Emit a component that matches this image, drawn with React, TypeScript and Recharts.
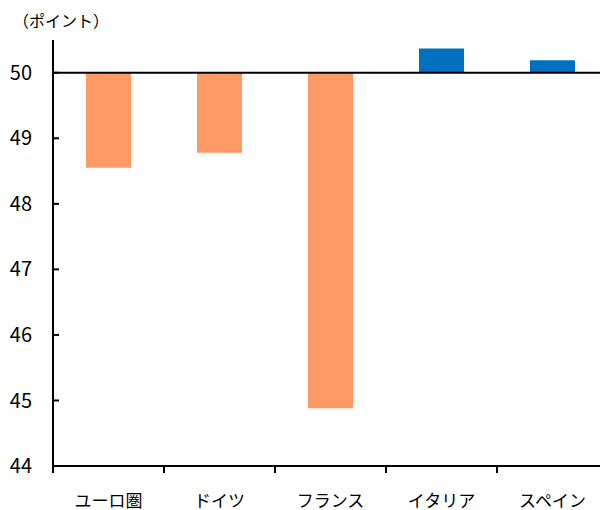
import React from "react";
import { BarChart, Bar, XAxis, YAxis, Cell, ReferenceLine } from "recharts";

const categories = ["ユーロ圏", "ドイツ", "フランス", "イタリア", "スペイン"];
const pmiValues = [48.55, 48.78, 44.88, 50.37, 50.19];
const baseline = 50;
const yTicks = [44, 45, 46, 47, 48, 49, 50];
const unitLabel = "（ポイント）";

const belowColor = "#FF9966";
const aboveColor = "#0070C0";

const data = categories.map((name, i) => ({
  name,
  value: pmiValues[i],
  range: [baseline, pmiValues[i]],
}));

const FONT = "'Noto Sans CJK JP', 'Noto Sans', sans-serif";

const XTick = (props: any) => {
  const { x, y, payload, index, visibleTicksCount } = props;
  const off = payload.offset || 0;
  const axisY = y - 6; // tick top (axis line) given tickSize=0 below
  const isLast = index === visibleTicksCount - 1;
  return (
    <g>
      <line x1={x - off} x2={x - off} y1={axisY} y2={axisY + 7} stroke="#000" strokeWidth={2} />
      {isLast && (
        <line x1={x + off} x2={x + off} y1={axisY} y2={axisY + 7} stroke="#000" strokeWidth={2} />
      )}
      <text
        x={x}
        y={axisY + 41}
        textAnchor="middle"
        fill="#000"
        fontSize={17}
        fontFamily={FONT}
      >
        {payload.value}
      </text>
    </g>
  );
};

export default function App() {
  return (
    <div style={{ position: "relative", width: 600, height: 502, fontFamily: FONT }}>
      <div
        style={{
          position: "absolute",
          left: 5,
          top: 4,
          fontSize: 16,
          lineHeight: "16px",
          color: "#000",
          whiteSpace: "nowrap",
        }}
      >
        {unitLabel}
      </div>
      <BarChart
        width={600}
        height={502}
        data={data}
        margin={{ top: 32, right: 0, bottom: 0, left: 0 }}
        barSize={45}
      >
        <XAxis
          dataKey="name"
          height={44}
          axisLine={{ stroke: "#000", strokeWidth: 2 }}
          tickLine={false}
          tickSize={0}
          tickMargin={6}
          tick={<XTick />}
          interval={0}
        />
        <YAxis
          type="number"
          domain={[44, 50.5]}
          ticks={yTicks}
          width={45}
          axisLine={{ stroke: "#000", strokeWidth: 2 }}
          tickLine={{ stroke: "#000", strokeWidth: 2 }}
          tickSize={-6}
          tickMargin={27}
          tick={{ fill: "#000", fontSize: 20, fontFamily: FONT }}
          allowDataOverflow
        />
        <Bar dataKey="range" isAnimationActive={false}>
          {data.map((d, i) => (
            <Cell key={i} fill={d.value < baseline ? belowColor : aboveColor} />
          ))}
        </Bar>
        <ReferenceLine y={baseline} stroke="#000" strokeWidth={2} />
      </BarChart>
    </div>
  );
}
